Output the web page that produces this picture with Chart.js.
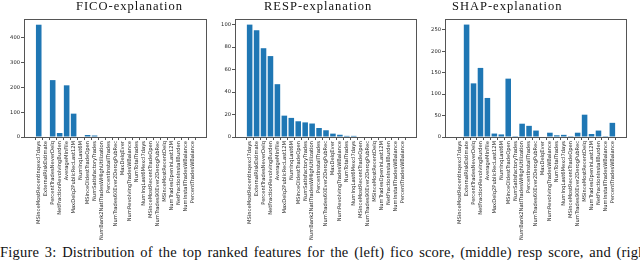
<!DOCTYPE html>
<html>
<head>
<meta charset="utf-8">
<script src="https://cdn.jsdelivr.net/npm/chart.js@4/dist/chart.umd.min.js"></script>
<style>
  body { margin: 0; background: #fff; width: 640px; height: 260px; overflow: hidden; position: relative; }
  canvas { position: absolute; top: 0; }
  #caption {
    position: absolute; left: 0; top: 244.5px; width: 655px;
    font-family: "Liberation Serif", serif; font-size: 14.5px; line-height: 14.5px; letter-spacing: 0.2px;
    color: #111; white-space: nowrap; text-align: justify; text-align-last: justify;
  }
</style>
</head>
<body>
<canvas id="fico" width="212" height="244" style="left:0px"></canvas>
<canvas id="resp" width="210" height="244" style="left:212px"></canvas>
<canvas id="shap" width="218" height="244" style="left:422px"></canvas>
<div id="caption">Figure 3: Distribution of the top ranked features for the (left) fico score, (middle) resp score, and (right)</div>
<script>
const features = [
  'MSinceMostRecentInqexcl7days', 'ExternalRiskEstimate', 'PercentTradesNeverDelq',
  'NetFractionRevolvingBurden', 'AverageMInFile', 'MaxDelq2PublicRecLast12M',
  'NumInqLast6M', 'MSinceOldestTradeOpen', 'NumSatisfactoryTrades',
  'NumBank2NatlTradesWHighUtilization', 'PercentInstallTrades', 'NumTrades60Ever2DerogPubRec',
  'MaxDelqEver', 'NumRevolvingTradesWBalance', 'NumTotalTrades',
  'NumInqLast6Mexcl7days', 'MSinceMostRecentTradeOpen', 'NumTrades90Ever2DerogPubRec',
  'MSinceMostRecentDelq', 'NumTradesOpeninLast12M', 'NetFractionInstallBurden',
  'NumInstallTradesWBalance', 'PercentTradesWBalance'
];

const ficoCounts = [452, 0, 229, 16, 208, 94, 0, 8, 6, 0, 0, 0, 0, 0, 0, 0, 0, 0, 0, 0, 0, 0, 0];
const respCounts = [100, 95, 79, 72, 47, 19, 17, 14, 13, 12, 8, 6, 3, 2, 1, 1, 0, 0, 0, 0, 0, 0, 0];
const shapCounts = [0, 262, 125, 161, 91, 8, 6, 136, 2, 31, 26, 15, 0, 10, 4, 5, 2, 10, 52, 7, 15, 2, 33];

const ficoYTicks = [0, 100, 200, 300, 400];
const respYTicks = [0, 20, 40, 60, 80, 100];
const shapYTicks = [0, 50, 100, 150, 200, 250];

// frame round the plot area + serif panel title (titles sit off-centre in the original)
const framePlugin = {
  id: 'frame',
  afterDraw(chart, args, opts) {
    const a = chart.chartArea, c = chart.ctx;
    c.save();
    c.strokeStyle = '#555';
    c.lineWidth = 1;
    c.strokeRect(Math.round(a.left) + 0.5, Math.round(a.top) + 0.5,
      Math.round(a.right - a.left) - 1, Math.round(a.bottom - a.top));
    c.fillStyle = '#111';
    c.font = '12.5px "Liberation Serif"';
    c.letterSpacing = '1px';
    c.textAlign = 'left';
    c.textBaseline = 'alphabetic';
    c.fillText(opts.title, opts.titleX, 9.5);
    c.restore();
  }
};

function makeChart(id, title, titleX, counts, yTicks, yMax, yAxisWidth, padRight) {
  const tickFont = { family: 'DejaVu Sans', size: 5.2 };
  return new Chart(document.getElementById(id), {
    type: 'bar',
    data: {
      datasets: [{
        data: counts.map((v, i) => ({ x: i, y: v })),
        backgroundColor: '#1f77b4',
        borderWidth: 0,
        barPercentage: 0.8,
        categoryPercentage: 1.0
      }]
    },
    options: {
      responsive: false,
      animation: false,
      layout: { padding: { left: 0, right: padRight, top: 19, bottom: 0 } },
      plugins: {
        legend: { display: false },
        tooltip: { enabled: false },
        frame: { title: title, titleX: titleX }
      },
      scales: {
        x: {
          type: 'linear',
          min: -1.54, max: features.length - 1 + 1.54,
          border: { display: false },
          grid: { drawOnChartArea: false, drawTicks: true, tickLength: 3, color: '#555' },
          afterBuildTicks: s => { s.ticks = features.map((_, i) => ({ value: i })); },
          afterFit: s => { s.height = 244 - 137; },
          ticks: {
            autoSkip: false, minRotation: 90, maxRotation: 90, padding: 1,
            color: '#222', font: tickFont,
            callback: v => features[v]
          }
        },
        y: {
          min: 0, max: yMax,
          border: { display: false },
          grid: { drawOnChartArea: false, drawTicks: true, tickLength: 3, color: '#555' },
          afterBuildTicks: s => { s.ticks = yTicks.map(v => ({ value: v })); },
          afterFit: s => { s.width = yAxisWidth; },
          ticks: { padding: 1, color: '#222', font: tickFont }
        }
      }
    },
    plugins: [framePlugin]
  });
}

makeChart('fico', 'FICO-explanation', 76, ficoCounts, ficoYTicks, 475, 24, 5);
makeChart('resp', 'RESP-explanation', 52, respCounts, respYTicks, 105, 23, 5);
makeChart('shap', 'SHAP-explanation', 30, shapCounts, shapYTicks, 275, 23, 13);
</script>
</body>
</html>
